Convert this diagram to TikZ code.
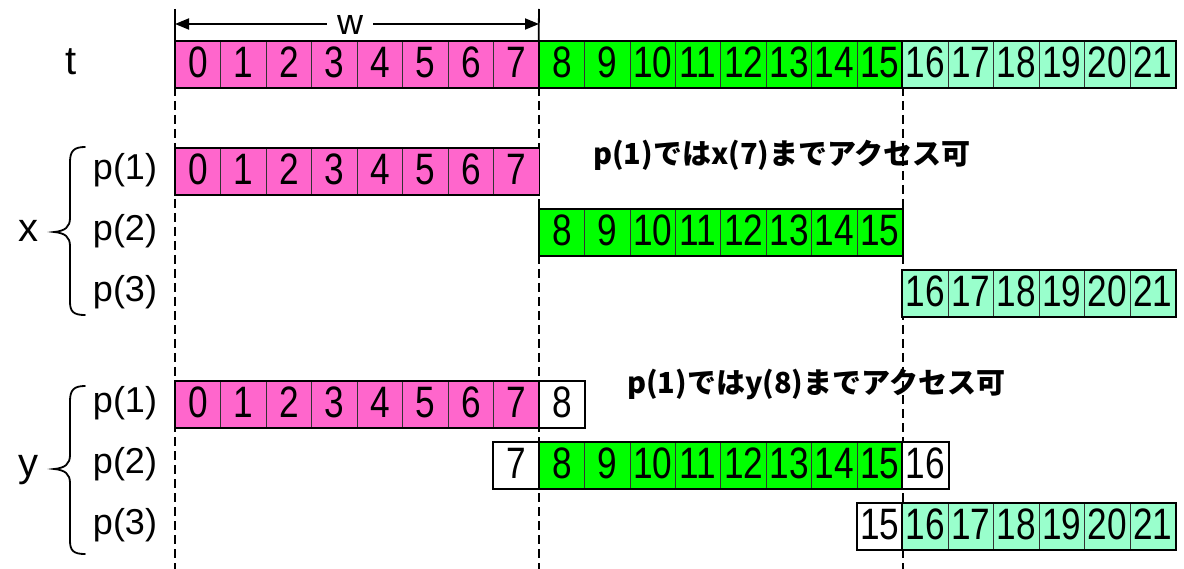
\documentclass[tikz,border=0pt]{standalone}
\usepackage{fontspec}
\setmainfont{Liberation Sans}
\newfontfamily\numfont[FakeStretch=0.8]{Liberation Sans}
\newfontfamily\jpfont{Noto Sans CJK JP}
\usetikzlibrary{arrows.meta}
\definecolor{cpink}{HTML}{FF66CC}
\definecolor{cgreen}{HTML}{00FF00}
\definecolor{caqua}{HTML}{99FFCC}
\tikzset{
  cell/.style={draw=black!80, line width=0.9pt, minimum width=45.4545pt, minimum height=46pt,
    inner sep=0pt, anchor=north west, text height=31.5pt, text depth=6pt,
    font=\numfont\fontsize{44}{48}\selectfont},
  grpline/.style={draw=black, line width=1.8pt},
  guide/.style={line width=1.5pt, dash pattern=on 9pt off 5pt},
  lab/.style={anchor=mid, inner sep=0pt, font=\fontsize{36}{40}\selectfont},
  biglab/.style={anchor=mid, inner sep=0pt, font=\fontsize{40}{44}\selectfont},
  brace/.style={line width=1.8pt, line cap=round},
  jp/.style={anchor=base west, inner sep=0pt, font=\jpfont\bfseries\fontsize{29}{32}\selectfont},
  dimtip/.style={-{Triangle[length=14pt,width=11pt]}}
}
\newcommand\cellrun[5]{%
  \foreach \i in {#3,...,#4}{\node[cell, fill=#5] (#1\i) at ({175+\i*45.4545},#2) {\i};}
  \draw[grpline] (#1#3.north west) rectangle (#1#4.south east);
}
\newcommand\onecell[3]{%
  \node[cell, fill=white] (#1#3) at ({175+#3*45.4545},#2) {#3};
  \draw[grpline] (#1#3.north west) rectangle (#1#3.south east);
}
\begin{document}
\begin{tikzpicture}[x=1pt,y=-1pt]
\useasboundingbox (0,0) rectangle (1184,569);
% guide lines
\coordinate (ga1) at (175,87); \coordinate (ga2) at (175,569);
\coordinate (gb1) at (539,87); \coordinate (gb2) at (539,569);
\coordinate (gc1) at (903,87); \coordinate (gc2) at (903,569);
\draw[guide] (ga1) -- (ga2);
\draw[guide] (gb1) -- (gb2);
\draw[guide] (gc1) -- (gc2);
% t row
\cellrun{t}{41}{0}{7}{cpink}
\cellrun{tg}{41}{8}{15}{cgreen}
\cellrun{ta}{41}{16}{21}{caqua}
% x rows
\cellrun{xa}{148}{0}{7}{cpink}
\cellrun{xb}{209}{8}{15}{cgreen}
\cellrun{xc}{270}{16}{21}{caqua}
% y rows
\cellrun{ya}{381}{0}{7}{cpink}
\onecell{yaw}{381}{8}
\onecell{ybw}{442}{7}
\cellrun{yb}{442}{8}{15}{cgreen}
\onecell{ybw}{442}{16}
\onecell{ycw}{503}{15}
\cellrun{yc}{503}{16}{21}{caqua}
% w dimension
\coordinate (wa) at (175,9);
\coordinate (wb) at (539,9);
\draw[line width=1.8pt] (wa) -- (t0.north west);
\draw[line width=1.8pt] (wb) -- (tg8.north west);
\coordinate (wl) at (175,24);
\coordinate (wr) at (539,24);
\coordinate (wm) at (350,24);
\draw[line width=1.8pt, dimtip] (wm) -- (wl);
\draw[line width=1.8pt, dimtip] (wm) -- (wr);
\node[lab, fill=white, inner xsep=10pt, inner ysep=4pt, anchor=center] (w) at (350,25) {w};
% labels
\node[biglab] (tl) at (71,72) {t};
\node[biglab] (xl) at (28,239) {x};
\node[biglab] (yl) at (28,474) {y};
\node[lab] (xp1) at (125,177) {p(1)};
\node[lab] (xp2) at (125,238) {p(2)};
\node[lab] (xp3) at (125,299) {p(3)};
\node[lab] (yp1) at (125,410) {p(1)};
\node[lab] (yp2) at (125,471) {p(2)};
\node[lab] (yp3) at (125,532) {p(3)};
% braces
\draw[brace] (85,147) .. controls (74,147) and (70,151) .. (70,162) -- (70,218)
  .. controls (70,227) and (65,231) .. (54,232) .. controls (65,233) and (70,237) .. (70,246)
  -- (70,302) .. controls (70,312) and (74,315) .. (85,315);
\draw[brace] (85,386) .. controls (74,386) and (70,390) .. (70,401) -- (70,455)
  .. controls (70,464) and (65,468) .. (54,469) .. controls (65,470) and (70,474) .. (70,483)
  -- (70,541) .. controls (70,551) and (74,554) .. (85,554);
% notes
\node[jp] (n1) at (593,165) {p(1)ではx(7)までアクセス可};
\node[jp] (n2) at (627,394) {p(1)ではy(8)までアクセス可};
\end{tikzpicture}
\end{document}
